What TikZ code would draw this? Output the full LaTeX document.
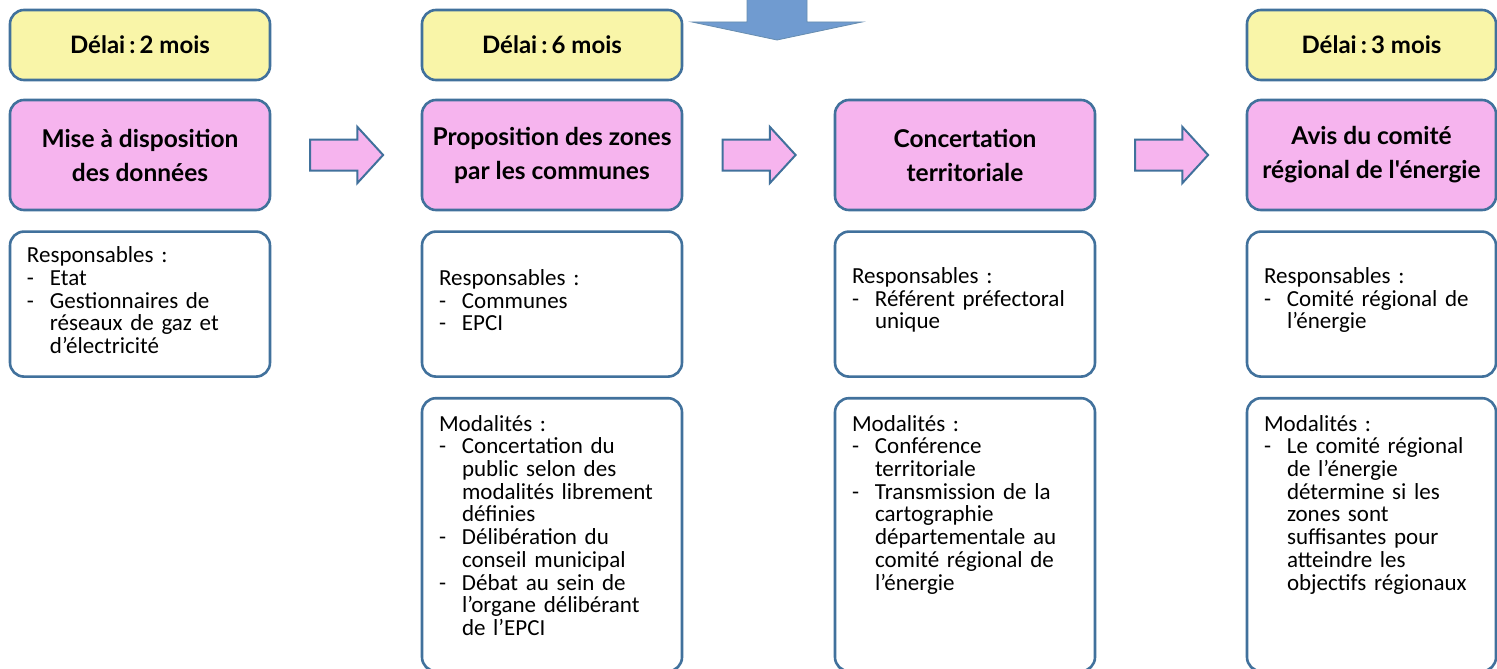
\documentclass[tikz,border=0pt]{standalone}
\usepackage{fontspec}
\setmainfont{Carlito}
\newfontfamily\titrefont{Lato}
\usepackage{tikz}
\usetikzlibrary{positioning, calc, shapes.arrows}

\definecolor{bordure}{HTML}{41719C}
\definecolor{jaune}{HTML}{F9F5A8}
\definecolor{rose}{HTML}{F6B4EE}
\definecolor{bleu}{HTML}{709BD0}

\newcommand{\tiret}{\makebox[23pt][l]{-}}
\newcommand{\suite}{\hspace*{23pt}}
\newcommand{\hautbloc}[1]{\parbox[c][239pt][t]{\linewidth}{\raggedright #1}}
\newcommand{\milieu}[1]{\parbox{\linewidth}{\raggedright #1\par\vspace{8pt}}}

\tikzset{
  boite/.style={draw=bordure, line width=2.6pt, rounded corners=14pt, inner sep=0pt},
  delai/.style={boite, fill=jaune, minimum width=260pt, minimum height=70pt,
    font=\titrefont\bfseries\fontsize{24}{30}\selectfont},
  etape/.style={boite, fill=rose, minimum width=260pt, minimum height=110pt, align=center,
    font=\titrefont\bfseries\fontsize{24.5}{34}\selectfont},
  infobox/.style={boite, fill=white, text width=226pt, inner xsep=17pt, minimum height=145pt,
    align=left, font=\fontsize{23}{22.7}\selectfont},
  fleche/.style={single arrow, draw=bordure, line width=2pt, fill=rose, inner xsep=0pt,
    inner ysep=14.5pt, minimum height=73pt, minimum width=54pt,
    single arrow head extend=12.5pt, single arrow tip angle=95, xshift=-6.5pt},
  grandefleche/.style={fill=bleu, draw=bordure!80, line width=0.8pt},
}

\begin{document}
\begin{tikzpicture}[x=1pt, y=-1pt]
    \fill[white] (0,0) rectangle (1497,669);
    \useasboundingbox (0,0) rectangle (1497,669);

    % delays
    \foreach \x/\n/\mois in {140/1/2, 552/2/6}
    \node[delai] (d\n) at (\x,45) {Délai\hspace{0.17em}:\hspace{0.17em}\mois\ mois};
    \node[delai, minimum width=249pt] (d4) at (1371.5,45) {Délai\hspace{0.17em}:\hspace{0.17em}3 mois};

    % steps
    \node[etape] (e1) at (140,155) {Mise à disposition\\des données};
    \node[etape] (e2) at (552,155) {Proposition des zones\\par les communes};
    \node[etape] (e3) at (965,155) {Concertation\\territoriale};
    \node[etape, minimum width=249pt] (e4) at (1371.5,155) {Avis du comité\\régional de l'énergie};

    % arrows between steps
    \foreach \a/\b in {e1/e2, e2/e3, e3/e4}
    \node[fleche] (f-\a) at ($(\a.east)!0.5!(\b.west)$) {};

    \draw[grandefleche] (747,-5) -- (747,22) -- (692,22) -- (777,40) -- (862,22) -- (807,22) -- (807,-5) -- cycle;

    % responsables
    \node[infobox, below=19pt of e1] (r1) {\milieu{Responsables :\\
        \tiret Etat\\
        \tiret Gestionnaires de\\
        \suite réseaux de gaz et\\
        \suite d’électricité}};
    \node[infobox, below=19pt of e2] (r2) {\milieu{Responsables :\\
        \tiret Communes\\
        \tiret EPCI}};
    \node[infobox, below=19pt of e3] (r3) {\milieu{Responsables :\\
        \tiret Référent préfectoral\\
        \suite unique}};
    \node[infobox, text width=215pt, below=19pt of e4] (r4) {\milieu{Responsables :\\
        \tiret Comité régional de\\
        \suite l’énergie}};

    % modalites
    \node[infobox, inner ysep=17pt, below=19pt of r2] (m2) {\hautbloc{Modalités :\\
        \tiret Concertation du\\
        \suite public selon des\\
        \suite modalités librement\\
        \suite définies\\
        \tiret Délibération du\\
        \suite conseil municipal\\
        \tiret Débat au sein de\\
        \suite l’organe délibérant\\
        \suite de l’EPCI}};
    \node[infobox, inner ysep=17pt, below=19pt of r3] (m3) {\hautbloc{Modalités :\\
        \tiret Conférence\\
        \suite territoriale\\
        \tiret Transmission de la\\
        \suite cartographie\\
        \suite départementale au\\
        \suite comité régional de\\
        \suite l’énergie}};
    \node[infobox, text width=215pt, inner ysep=17pt, below=19pt of r4] (m4) {\hautbloc{Modalités :\\
        \tiret Le comité régional\\
        \suite de l’énergie\\
        \suite détermine si les\\
        \suite zones sont\\
        \suite suffisantes pour\\
        \suite atteindre les\\
        \suite objectifs régionaux}};
\end{tikzpicture}
\end{document}
